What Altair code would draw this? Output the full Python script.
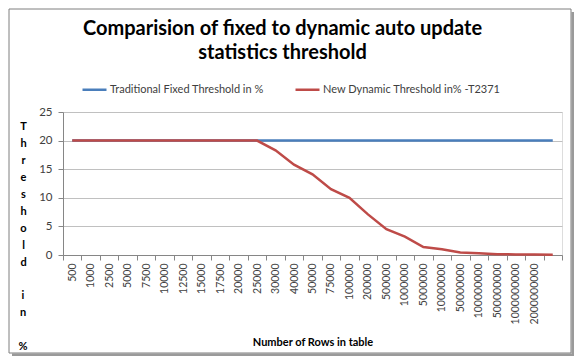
import altair as alt
import pandas as pd

rows_labels = ["500", "1000", "2500", "5000", "7500", "10000", "12500", "15000",
               "17500", "20000", "25000", "30000", "40000", "50000", "75000",
               "100000", "200000", "500000", "1000000", "5000000", "10000000",
               "50000000", "100000000", "500000000", "1000000000", "2000000000", " "]
fixed_threshold = [20, 20, 20, 20, 20, 20, 20, 20, 20, 20, 20, 20, 20, 20, 20,
                   20, 20, 20, 20, 20, 20, 20, 20, 20, 20, 20, 20]
dynamic_threshold = [20, 20, 20, 20, 20, 20, 20, 20, 20, 20, 20, 18.3, 15.8, 14.1,
                     11.5, 10.0, 7.1, 4.5, 3.2, 1.4, 1.0, 0.45, 0.32, 0.14, 0.1,
                     0.07, 0.05]
series_names = ["Traditional Fixed Threshold in %", "New Dynamic Threshold in% -T2371"]
series_colors = ["#4a7ebb", "#be4b48"]
y_title_word1 = ["T", "h", "r", "e", "s", "h", "o", "l", "d"]
y_title_word2 = ["i", "n"]
y_title_word3 = ["%"]

records = []
for lab, v in zip(rows_labels, fixed_threshold):
    records.append({"rows": lab, "value": v, "series": series_names[0]})
for lab, v in zip(rows_labels, dynamic_threshold):
    records.append({"rows": lab, "value": v, "series": series_names[1]})
df = pd.DataFrame(records)

FONT = "Lato"
LH = 17

lines = alt.Chart(df).mark_line(strokeWidth=2.5).encode(
    x=alt.X("rows:N", sort=rows_labels,
            scale=alt.Scale(type="band", paddingInner=0, paddingOuter=0),
            axis=alt.Axis(title="Number of Rows in table", labelAngle=270,
                          tickBand="extent", tickSize=5, labelPadding=3,
                          labelFontSize=10.5, labelColor="#404040", labelFont=FONT,
                          domainColor="#868686", tickColor="#868686",
                          titleFont=FONT, titleFontSize=11, titleFontWeight="bold",
                          titleColor="#000000", titleBaseline="middle", titleY=87,
                          grid=False)),
    y=alt.Y("value:Q", scale=alt.Scale(domain=[0, 25]),
            axis=alt.Axis(values=[0, 5, 10, 15, 20, 25], tickSize=5, labelPadding=6,
                          labelFontSize=11.5, labelColor="#404040", labelFont=FONT,
                          domainColor="#868686", tickColor="#868686",
                          gridColor="#c0c0c0",
                          title=y_title_word1,
                          titleAngle=0, titleAlign="center", titleBaseline="top",
                          titleX=-40, titleY=8, titleLineHeight=LH,
                          titleFont=FONT, titleFontSize=11, titleFontWeight="bold",
                          titleColor="#000000")),
    color=alt.Color("series:N",
                    scale=alt.Scale(domain=series_names, range=series_colors),
                    legend=alt.Legend(title=None, orient="none", direction="horizontal",
                                      legendX=18, legendY=-36,
                                      symbolType="stroke", symbolSize=576,
                                      symbolStrokeWidth=2.5, labelOffset=2,
                                      columnPadding=26, labelFont=FONT,
                                      labelFontSize=11, labelColor="#404040",
                                      labelLimit=300)),
)

one = alt.Data(values=[{"a": 1}])
frame = alt.Chart(one).mark_rect(fill="transparent", stroke="#7f7f7f",
                                 strokeWidth=1).encode(
    x=alt.value(-54), x2=alt.value(508), y=alt.value(-103), y2=alt.value(241))
shadow_r = alt.Chart(one).mark_rule(stroke="#9a9a9a", strokeWidth=3).encode(
    x=alt.value(510), x2=alt.value(510), y=alt.value(-100), y2=alt.value(243))
shadow_b = alt.Chart(one).mark_rule(stroke="#9a9a9a", strokeWidth=3).encode(
    x=alt.value(-51), x2=alt.value(511), y=alt.value(243), y2=alt.value(243))

text_style = dict(font=FONT, fontSize=11, fontWeight="bold", color="#000000",
                  align="center", baseline="top", lineHeight=LH)
ytitle2 = alt.Chart(one).mark_text(text=y_title_word2, **text_style).encode(
    x=alt.value(-40), y=alt.value(8 + 10 * LH))
ytitle3 = alt.Chart(one).mark_text(text=y_title_word3, **text_style).encode(
    x=alt.value(-40), y=alt.value(8 + 13 * LH))

chart = alt.layer(shadow_r, shadow_b, frame, ytitle2, ytitle3, lines).properties(
    width=499, height=143,
    autosize=alt.AutoSizeParams(type="none"),
    padding={"left": 55, "top": 104, "right": 12, "bottom": 101},
    title=alt.Title(["Comparision of fixed to dynamic auto update",
                     "statistics threshold"],
                    font=FONT, fontSize=20, fontWeight="bold", color="#000000",
                    anchor="middle", lineHeight=24, offset=12, dx=-30, dy=66),
).configure_view(stroke=None).configure(background="white")

chart.save("out.html", embed_options={"renderer": "svg", "actions": False})
